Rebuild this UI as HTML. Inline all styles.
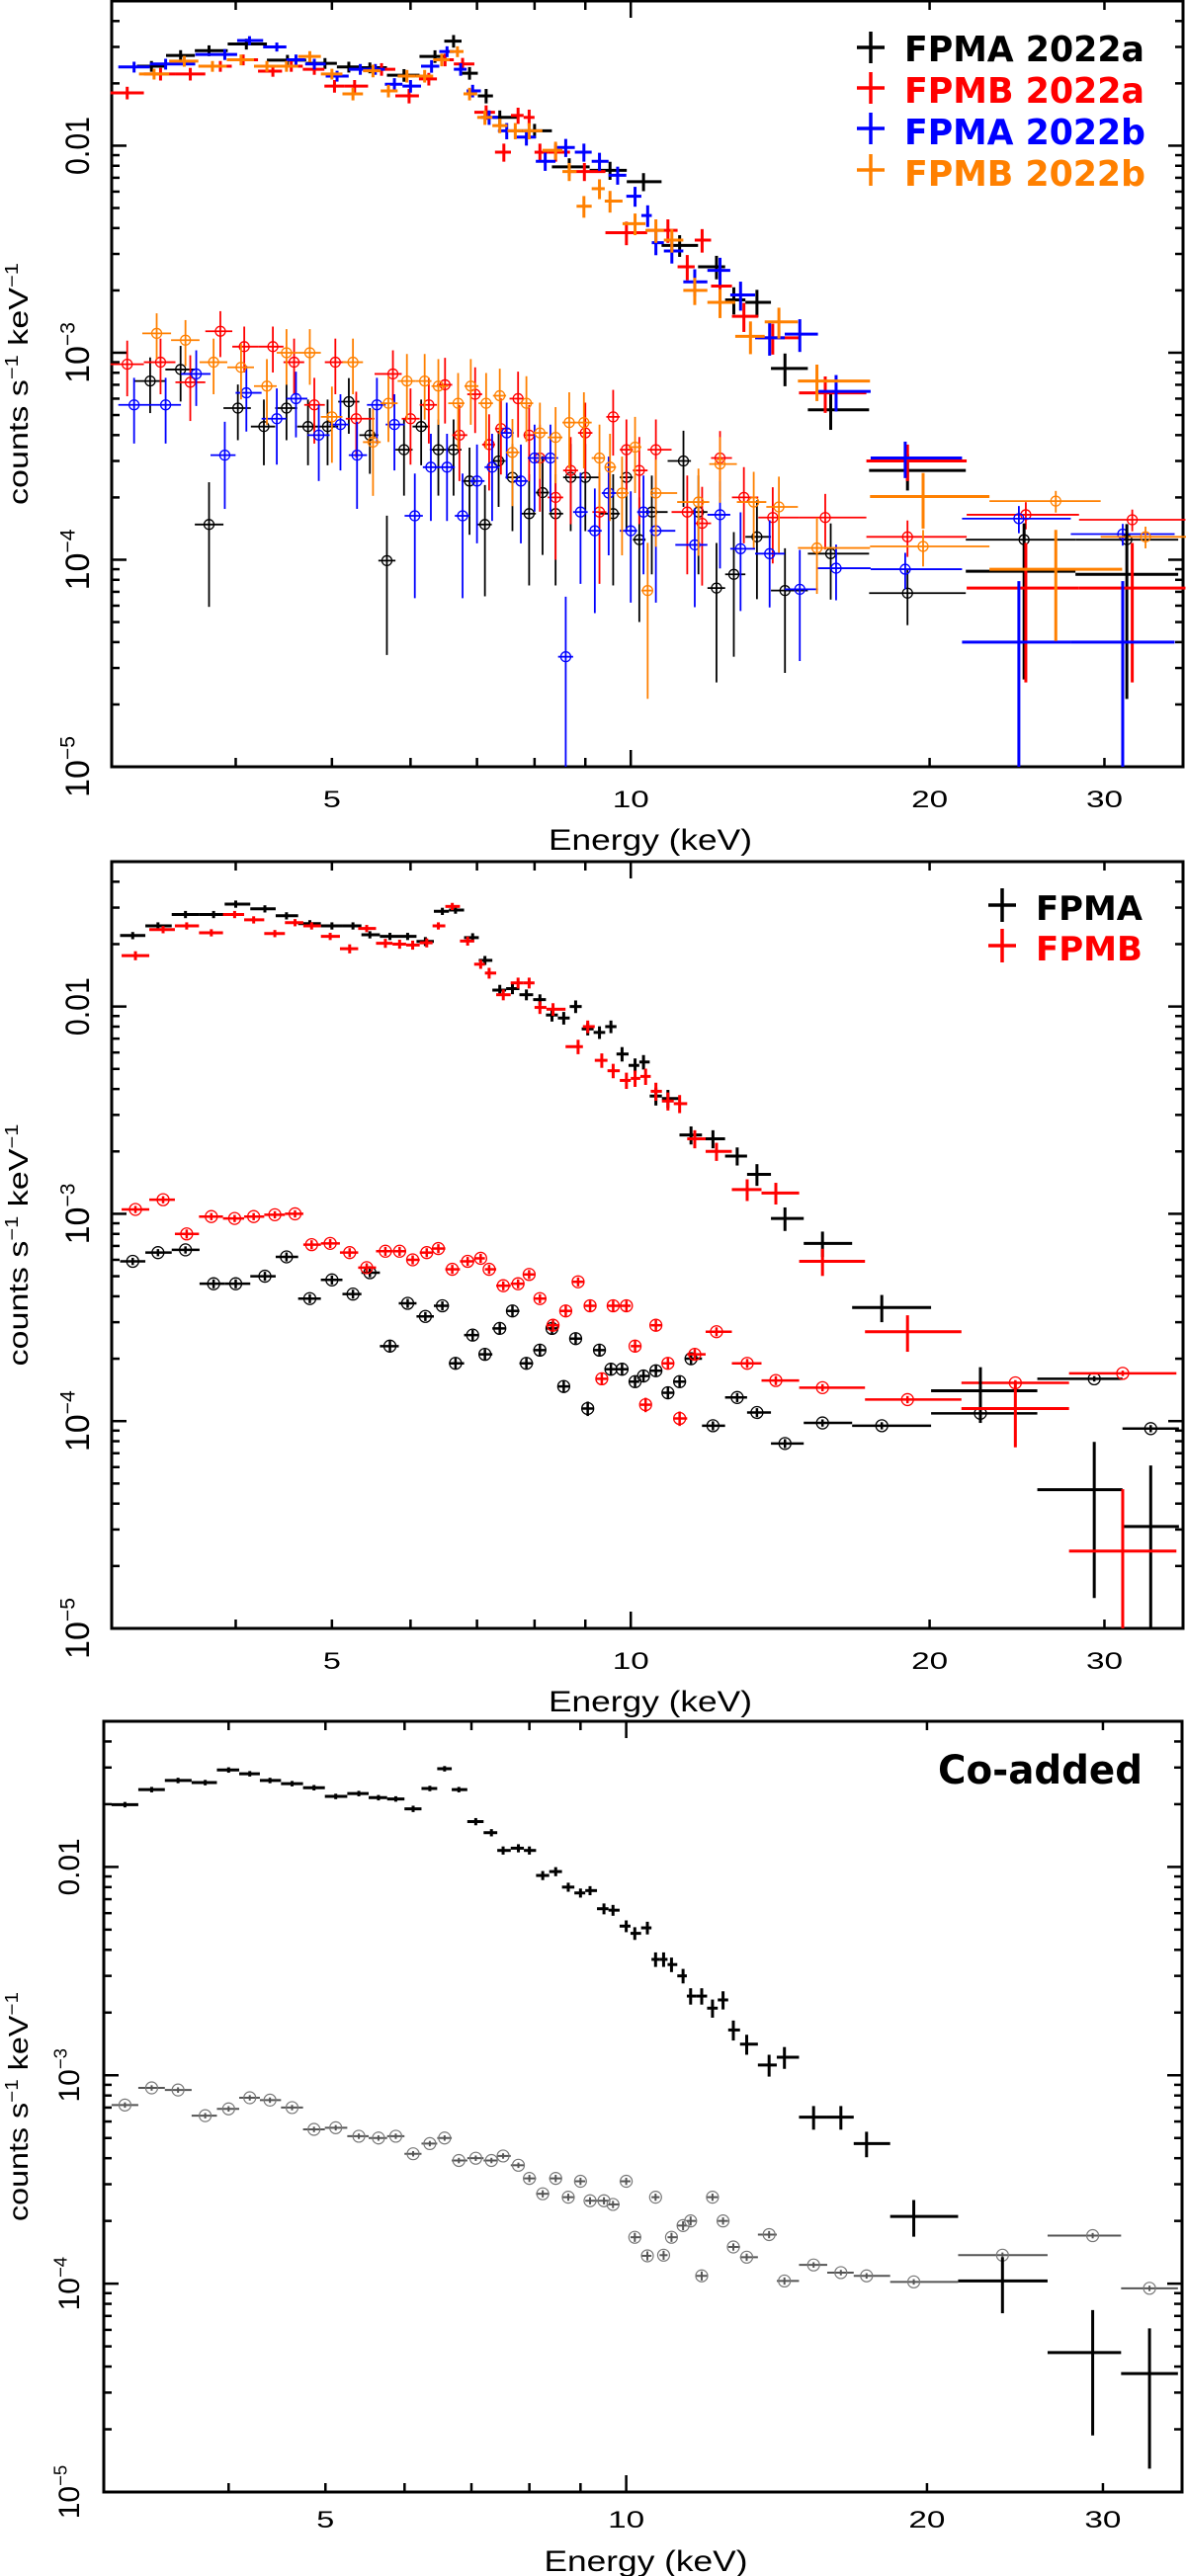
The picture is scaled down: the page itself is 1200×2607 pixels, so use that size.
<!DOCTYPE html>
<html><head><meta charset="utf-8"><title>NuSTAR spectra</title>
<style>html,body{margin:0;padding:0;background:#fff}svg{display:block}</style></head>
<body>
<svg id="chart" xmlns="http://www.w3.org/2000/svg" width="1200" height="2607" viewBox="0 0 1200 2607">
<rect x="0" y="0" width="1200" height="2607" fill="#fff"/>
</svg>
<script>
// ---------------- data: [energy keV, counts s^-1 keV^-1, fractional error] ----------------
const p1SrcFpmaA = [[3.29,0.0242,.06],[3.52,0.0273,.06],[3.76,0.0288,.06],[4.10,0.031,.06],[4.51,0.0259,.06],[4.92,0.025,.06],[5.2,0.024,.06],[5.46,0.0238,.06],[5.91,0.0219,.07],[6.35,0.027,.07],[6.63,0.032,.07],[6.88,0.0224,.07],[7.15,0.0174,.08],[7.38,0.0137,.08],[8.0,0.0118,.08],[8.67,0.0079,.1],[9.53,0.0076,.1],[10.3,0.0067,.1],[11.2,0.0033,.12],[12.2,0.0026,.13],[12.7,0.0018,.15],[13.4,0.00175,.15],[14.3,0.00084,.18],[15.9,0.00053,.2],[19.0,0.00027,.2],[24.9,0.000088,.7],[31.6,0.000085,.75]];
const p1SrcFpmbA = [[3.11,0.018,.07],[3.36,0.0222,.07],[3.6,0.0222,.07],[3.86,0.0242,.06],[4.07,0.026,.06],[4.36,0.0229,.06],[4.55,0.0242,.06],[4.8,0.0234,.06],[5.03,0.0194,.07],[5.27,0.0194,.07],[5.61,0.0234,.07],[5.98,0.0174,.08],[6.26,0.021,.07],[6.5,0.026,.07],[6.77,0.0248,.07],[7.15,0.0145,.08],[7.45,0.0093,.1],[7.7,0.014,.09],[7.9,0.0137,.09],[8.1,0.0093,.1],[8.4,0.0093,.1],[8.98,0.0075,.1],[9.9,0.0038,.13],[10.9,0.0039,.13],[11.4,0.0026,.14],[11.8,0.0035,.13],[12.3,0.0021,.15],[13.0,0.0015,.16],[13.9,0.00118,.17],[15.7,0.00064,.2],[19.0,0.0003,.2],[25,0.000073,.65],[32,0.000073,.65]];
const p1SrcFpmaB = [[3.16,0.024,.06],[3.40,0.0248,.06],[3.9,0.0276,.06],[4.13,0.0322,.05],[4.4,0.030,.05],[4.6,0.026,.06],[4.8,0.0248,.06],[5.06,0.0217,.06],[5.34,0.0234,.06],[5.53,0.0234,.06],[5.78,0.0198,.07],[6.0,0.0194,.07],[6.3,0.0242,.07],[6.53,0.0285,.06],[6.74,0.0234,.07],[6.93,0.0184,.07],[7.2,0.0137,.08],[7.5,0.0118,.09],[7.85,0.011,.09],[8.2,0.0084,.1],[8.6,0.0098,.1],[8.97,0.0093,.1],[9.3,0.0084,.1],[9.7,0.0072,.1],[10.1,0.0057,.11],[10.4,0.0046,.12],[10.6,0.0034,.13],[11.0,0.0031,.13],[11.6,0.0022,.15],[12.3,0.0025,.15],[12.9,0.0019,.16],[13.8,0.00118,.18],[14.8,0.00123,.18],[16.1,0.00065,.2],[18.9,0.00031,.2],[24.6,0.00004,.97],[31.3,0.00004,.97]];
const p1SrcFpmbB = [[3.31,0.0222,.06],[3.55,0.0256,.06],[3.79,0.0242,.06],[4.05,0.026,.06],[4.3,0.0242,.06],[4.5,0.0242,.06],[4.75,0.027,.06],[5.0,0.0222,.06],[5.25,0.0178,.07],[5.5,0.023,.07],[5.7,0.0184,.07],[5.95,0.0217,.07],[6.2,0.0217,.07],[6.45,0.026,.07],[6.69,0.0285,.06],[6.88,0.0178,.07],[7.13,0.0137,.08],[7.38,0.0125,.08],[7.65,0.0118,.09],[7.9,0.0118,.09],[8.4,0.0095,.1],[8.67,0.0075,.1],[8.97,0.0051,.12],[9.3,0.0062,.11],[9.53,0.0054,.12],[10.1,0.0042,.12],[10.6,0.0039,.13],[11.0,0.0035,.13],[11.6,0.002,.15],[12.3,0.00175,.16],[13.2,0.0012,.18],[14.1,0.00141,.17],[15.4,0.00073,.2],[19.7,0.000202,.3],[26.8,0.00009,.55]];
const p1BkgFpmaA = [[3.28,0.00073,.3],[3.52,0.00083,.3],[3.76,0.000148,.6],[4.02,0.00054,.3],[4.27,0.00044,.35],[4.5,0.00054,.3],[4.73,0.00044,.35],[4.95,0.00044,.35],[5.2,0.00058,.3],[5.46,0.0004,.35],[5.68,0.000099,.65],[5.91,0.00034,.4],[6.15,0.00044,.35],[6.4,0.00034,.4],[6.63,0.00034,.4],[6.88,0.00024,.45],[7.13,0.000148,.55],[7.36,0.0003,.4],[7.6,0.00025,.45],[7.9,0.000167,.55],[8.15,0.000211,.5],[8.4,0.000167,.55],[8.7,0.00025,.45],[9.0,0.00025,.45],[9.6,0.000167,.55],[9.9,0.00025,.45],[10.2,0.000125,.6],[10.5,0.00017,.5],[11.3,0.0003,.4],[11.7,0.00017,.5],[12.2,0.000073,.65],[12.7,0.000085,.6],[13.4,0.000129,.5],[14.3,0.000071,.6],[15.9,0.000107,.4],[19,0.000069,.3],[24.9,0.000125,.2],[31.6,0.000125,.15]];
const p1BkgFpmbA = [[3.11,0.00088,.3],[3.36,0.0009,.3],[3.6,0.00072,.35],[3.86,0.00127,.25],[4.08,0.00107,.25],[4.36,0.00107,.25],[4.58,0.0009,.3],[4.8,0.00056,.35],[5.04,0.0009,.3],[5.29,0.00048,.35],[5.76,0.00079,.3],[6.0,0.00048,.4],[6.26,0.00056,.35],[6.5,0.0007,.35],[6.72,0.0004,.4],[6.97,0.00063,.35],[7.2,0.00036,.4],[7.4,0.00043,.4],[7.7,0.0006,.35],[7.9,0.0004,.4],[8.1,0.00031,.45],[8.4,0.0002,.5],[8.7,0.00027,.45],[9.0,0.00041,.4],[9.3,0.00017,.55],[9.6,0.00049,.35],[9.9,0.00034,.4],[10.2,0.00027,.45],[10.6,0.00034,.4],[11.4,0.00017,.5],[11.8,0.00015,.5],[12.3,0.00031,.35],[13.0,0.0002,.4],[13.9,0.00016,.4],[15.7,0.00016,.3],[19,0.000129,.2],[25,0.000165,.15],[32,0.000156,.12]];
const p1BkgFpmaB = [[3.16,0.00056,.35],[3.4,0.00056,.35],[3.65,0.00079,.3],[3.9,0.00032,.45],[4.1,0.00064,.35],[4.4,0.00048,.4],[4.6,0.0006,.35],[4.85,0.0004,.4],[5.1,0.00045,.4],[5.3,0.00032,.45],[5.55,0.00056,.35],[5.78,0.00045,.4],[6.06,0.000163,.6],[6.29,0.00028,.45],[6.53,0.00028,.45],[6.77,0.000163,.6],[7.0,0.00024,.5],[7.25,0.00028,.45],[7.5,0.00041,.4],[7.75,0.00024,.5],[8.0,0.00031,.45],[8.3,0.00031,.45],[8.6,0.000034,.95],[8.9,0.00017,.55],[9.2,0.000138,.6],[9.5,0.00021,.5],[10.0,0.000138,.55],[10.3,0.00017,.5],[10.6,0.000138,.55],[11.6,0.000118,.5],[12.3,0.000165,.45],[12.9,0.000113,.5],[13.8,0.000107,.45],[14.8,0.000072,.55],[16.1,0.000091,.3],[18.9,0.00009,.2],[24.6,0.000158,.15],[31.3,0.000133,.12]];
const p1BkgFpmbB = [[3.33,0.00124,.25],[3.56,0.00115,.25],[3.8,0.0009,.3],[4.05,0.00085,.3],[4.3,0.00069,.35],[4.5,0.001,.3],[4.75,0.001,.3],[5.0,0.00049,.4],[5.25,0.0009,.3],[5.5,0.00037,.45],[5.7,0.00057,.35],[5.95,0.00073,.35],[6.2,0.00073,.35],[6.4,0.00069,.35],[6.7,0.00057,.4],[6.9,0.00069,.35],[7.15,0.00057,.4],[7.38,0.00062,.35],[7.6,0.00033,.45],[7.85,0.00057,.35],[8.1,0.00041,.4],[8.4,0.00039,.4],[8.67,0.00046,.4],[8.97,0.00046,.4],[9.3,0.00031,.45],[9.53,0.00028,.45],[9.8,0.00021,.5],[10.1,0.00035,.4],[10.4,0.000071,.7],[10.6,0.00021,.45],[11.7,0.00019,.45],[12.3,0.00029,.35],[13.3,0.00019,.4],[14.1,0.00018,.4],[15.4,0.000114,.4],[19.7,0.000116,.2],[26.8,0.000192,.12],[33,0.000129,.12]];

const p2SrcFpma = [[3.15,0.022,.04],[3.34,0.0245,.04],[3.56,0.0278,.04],[3.8,0.0278,.04],[4.0,0.0312,.04],[4.28,0.0296,.04],[4.5,0.0274,.04],[4.75,0.0251,.04],[5.0,0.0245,.04],[5.25,0.0245,.04],[5.46,0.0222,.04],[5.72,0.0218,.04],[5.96,0.0218,.04],[6.21,0.0206,.05],[6.46,0.0288,.04],[6.66,0.0292,.04],[6.93,0.0215,.05],[7.13,0.0167,.05],[7.38,0.012,.06],[7.6,0.0122,.06],[7.85,0.0114,.06],[8.1,0.0108,.06],[8.33,0.0091,.07],[8.56,0.0088,.07],[8.8,0.010,.07],[9.05,0.0078,.07],[9.3,0.0075,.07],[9.55,0.008,.07],[9.8,0.0059,.08],[10.1,0.0052,.08],[10.3,0.0054,.08],[10.6,0.0037,.1],[10.9,0.0036,.1],[11.5,0.0024,.1],[12.1,0.0023,.1],[12.8,0.0019,.1],[13.4,0.00155,.12],[14.3,0.00095,.13],[15.6,0.00072,.14],[17.9,0.000353,.15],[22.5,0.00014,.3],[29.3,0.0000467,.7],[33.4,0.000031,.97]];
const p2SrcFpmb = [[3.17,0.0176,.05],[3.38,0.0235,.04],[3.57,0.0245,.04],[3.78,0.0227,.04],[3.99,0.0278,.04],[4.17,0.0262,.04],[4.38,0.0225,.04],[4.59,0.0254,.04],[4.77,0.0245,.04],[4.98,0.0218,.04],[5.21,0.019,.05],[5.42,0.0238,.04],[5.66,0.0202,.05],[5.85,0.02,.05],[6.03,0.0198,.05],[6.23,0.0203,.05],[6.4,0.0245,.04],[6.61,0.0304,.04],[6.85,0.0207,.05],[7.06,0.016,.05],[7.2,0.0145,.06],[7.44,0.0114,.06],[7.7,0.013,.06],[7.9,0.013,.06],[8.1,0.0099,.07],[8.35,0.0097,.07],[8.85,0.0064,.08],[9.05,0.0080,.07],[9.35,0.0055,.08],[9.6,0.0049,.08],[9.9,0.0044,.09],[10.1,0.0045,.09],[10.35,0.0046,.09],[10.6,0.0039,.1],[10.9,0.0035,.1],[11.2,0.0034,.1],[11.6,0.0023,.1],[12.2,0.0020,.1],[13.1,0.00131,.12],[14.0,0.00126,.12],[15.6,0.00059,.15],[19.0,0.00027,.2],[24.4,0.000115,.35],[31.3,0.0000236,.99]];
const p2BkgFpma = [[3.15,0.00059,.04],[3.34,0.00065,.04],[3.56,0.00067,.04],[3.8,0.00046,.05],[4.0,0.00046,.05],[4.28,0.0005,.05],[4.5,0.00062,.05],[4.75,0.00039,.05],[5.0,0.00048,.05],[5.25,0.00041,.05],[5.46,0.00052,.05],[5.72,0.00023,.06],[5.96,0.00037,.05],[6.21,0.00032,.05],[6.46,0.00036,.05],[6.66,0.00019,.06],[6.93,0.00026,.06],[7.13,0.00021,.06],[7.38,0.00028,.06],[7.6,0.00034,.06],[7.85,0.00019,.06],[8.1,0.00022,.06],[8.33,0.00028,.06],[8.56,0.000147,.07],[8.8,0.00025,.06],[9.05,0.000115,.08],[9.3,0.00022,.06],[9.55,0.000178,.06],[9.8,0.000178,.06],[10.1,0.000155,.06],[10.3,0.000165,.06],[10.6,0.000175,.06],[10.9,0.000137,.07],[11.2,0.000155,.06],[11.5,0.0002,.06],[12.1,0.000095,.05],[12.8,0.00013,.05],[13.4,0.00011,.05],[14.3,0.000078,.05],[15.6,0.000098,.04],[17.9,0.000095,.04],[22.5,0.000109,.03],[29.3,0.00016,.03],[33.4,0.000092,.04]];
const p2BkgFpmb = [[3.17,0.00105,.04],[3.38,0.00117,.04],[3.57,0.0008,.05],[3.78,0.00097,.04],[3.99,0.00095,.04],[4.17,0.00097,.04],[4.38,0.00099,.04],[4.59,0.001,.04],[4.77,0.00071,.05],[4.98,0.00072,.05],[5.21,0.00065,.05],[5.42,0.00055,.05],[5.66,0.00066,.05],[5.85,0.00066,.05],[6.03,0.0006,.05],[6.23,0.00065,.05],[6.4,0.00068,.05],[6.61,0.00054,.05],[6.85,0.00059,.05],[7.06,0.00061,.05],[7.2,0.00054,.05],[7.44,0.00045,.05],[7.7,0.00046,.05],[7.9,0.00051,.05],[8.1,0.00039,.05],[8.35,0.00029,.06],[8.6,0.00034,.06],[8.85,0.00047,.05],[9.1,0.00036,.06],[9.35,0.00016,.07],[9.6,0.00036,.06],[9.9,0.00036,.06],[10.1,0.00023,.06],[10.35,0.00012,.08],[10.6,0.00029,.06],[10.9,0.00019,.06],[11.2,0.000103,.08],[11.6,0.00021,.06],[12.2,0.00027,.05],[13.1,0.00019,.05],[14.0,0.000157,.05],[15.6,0.000145,.04],[19.0,0.000127,.04],[24.4,0.000153,.03],[31.3,0.00017,.03]];

const p3SrcCoadded = [[3.15,0.0199,.03],[3.35,0.0235,.03],[3.56,0.026,.03],[3.79,0.0254,.03],[4.0,0.0292,.03],[4.2,0.028,.03],[4.4,0.026,.03],[4.63,0.0251,.03],[4.87,0.024,.03],[5.12,0.0218,.03],[5.4,0.0225,.03],[5.65,0.0215,.03],[5.88,0.0212,.03],[6.12,0.019,.035],[6.36,0.0238,.03],[6.58,0.0296,.03],[6.8,0.0235,.03],[7.07,0.0165,.04],[7.33,0.0146,.04],[7.53,0.012,.045],[7.8,0.0123,.045],[8.0,0.012,.045],[8.25,0.0091,.05],[8.5,0.0095,.05],[8.75,0.008,.05],[9.0,0.0075,.05],[9.2,0.0077,.05],[9.5,0.0063,.06],[9.7,0.0062,.06],[10.0,0.0052,.065],[10.2,0.0048,.07],[10.5,0.0051,.07],[10.7,0.0036,.08],[10.9,0.0036,.08],[11.1,0.0034,.08],[11.4,0.0030,.08],[11.6,0.0024,.09],[11.9,0.0024,.09],[12.2,0.0021,.1],[12.5,0.0023,.1],[12.8,0.00165,.11],[13.2,0.00141,.11],[13.9,0.00112,.12],[14.4,0.00122,.12],[15.4,0.00063,.13],[16.4,0.00063,.13],[17.4,0.00047,.14],[19.4,0.00021,.2],[23.8,0.000103,.3],[29.3,0.0000467,.6],[33.4,0.000037,.65]];
const p3BkgCoadded = [[3.15,0.00072,.03],[3.35,0.00087,.03],[3.56,0.00085,.03],[3.79,0.00064,.03],[4.0,0.00069,.03],[4.2,0.00078,.03],[4.4,0.00076,.03],[4.63,0.0007,.03],[4.87,0.00055,.03],[5.12,0.00056,.03],[5.4,0.00051,.03],[5.65,0.0005,.03],[5.88,0.00051,.03],[6.12,0.00042,.03],[6.36,0.00047,.03],[6.58,0.0005,.03],[6.8,0.00039,.03],[7.07,0.0004,.03],[7.33,0.00039,.03],[7.53,0.00041,.03],[7.8,0.00037,.03],[8.0,0.00032,.04],[8.25,0.00027,.04],[8.5,0.00032,.04],[8.75,0.00026,.04],[9.0,0.00031,.04],[9.2,0.00025,.04],[9.5,0.00025,.04],[9.7,0.00024,.04],[10.0,0.00031,.04],[10.2,0.000167,.05],[10.5,0.000136,.05],[10.7,0.00026,.04],[10.9,0.000137,.05],[11.1,0.000167,.05],[11.4,0.00019,.05],[11.6,0.0002,.05],[11.9,0.000109,.05],[12.2,0.00026,.04],[12.5,0.0002,.04],[12.8,0.00015,.04],[13.2,0.000134,.04],[13.9,0.000172,.04],[14.4,0.000103,.04],[15.4,0.000123,.03],[16.4,0.000113,.03],[17.4,0.000109,.03],[19.4,0.000102,.03],[23.8,0.000137,.03],[29.3,0.00017,.03],[33.4,0.000095,.03]];

const xTickValues = [4,5,6,7,8,9,10,20,30];
const xTickLabels = ["5","10","20","30"];
const xLabelValues = [5,10,20,30];
const yMajorValues = [1e-5,1e-4,1e-3,1e-2];

// ---------------- layout ----------------
const XMIN = 3, XMAX = 36, YMIN = 1e-5, YMAX = 0.05;
const NS = "http://www.w3.org/2000/svg";
const svg = document.getElementById("chart");
const panels = [
  {id:"top", l:113, r:1197, t:1, b:776, ylabX:90, yFont:34, titleLen:245, yLenDec:59, xLab:41, xTitle:74},
  {id:"middle", l:113, r:1197, t:872, b:1648, ylabX:90, yFont:34, titleLen:245, yLenDec:59, xLab:41, xTitle:74},
  {id:"bottom", l:105, r:1196, t:1742, b:2522, ylabX:80, yFont:30, titleLen:232, yLenDec:58, xLab:36, xTitle:70}
];
function xs(p,E){return p.l+(p.r-p.l)*Math.log(E/XMIN)/Math.log(XMAX/XMIN);}
function ys(p,v){return p.b-(p.b-p.t)*Math.log(v/YMIN)/Math.log(YMAX/YMIN);}
function mk(tag,attrs,parent){const e=document.createElementNS(NS,tag);for(const k in attrs)e.setAttribute(k,attrs[k]);(parent||svg).appendChild(e);return e;}

function drawAxes(p){
  const g=mk("g",{});
  
  
  for(let d=-5;d<=-2;d++){
    for(let m=1;m<=9;m++){
      const v=m*Math.pow(10,d); if(v>YMAX+1e-12) continue;
      const y=ys(p,v), L=(m===1)?15:8;
      const t1=mk("line",{x1:p.l,x2:p.l+L,y1:y,y2:y,stroke:"#000","stroke-width":2.5},g);
      
      
      const t2=mk("line",{x1:p.r,x2:p.r-L,y1:y,y2:y,stroke:"#000","stroke-width":2.5},g);
      
      
    }
  }
  xTickValues.forEach(v=>{
    const x=xs(p,v), L=(v===10)?17:9;
    const a=mk("line",{x1:x,x2:x,y1:p.b,y2:p.b-L,stroke:"#000","stroke-width":2.5},g);
    
    
    const b=mk("line",{x1:x,x2:x,y1:p.t,y2:p.t+L,stroke:"#000","stroke-width":2.5},g);
    
    
  });
  const fr=mk("rect",{x:p.l,y:p.t,width:p.r-p.l,height:p.b-p.t,fill:"none",stroke:"#000","stroke-width":3},g);
  
  
  xLabelValues.forEach((v,i)=>{
    const t=mk("text",{x:xs(p,v),y:p.b+p.xLab,"text-anchor":"middle","font-family":"Liberation Sans, sans-serif","font-size":24,textLength:xTickLabels[i].length===1?18:37,lengthAdjust:"spacingAndGlyphs"},g);
    t.textContent=xTickLabels[i];
    
    
  });
  const xt=mk("text",{x:(p.l+p.r)/2+3,y:p.b+p.xTitle+10,"text-anchor":"middle","font-family":"Liberation Sans, sans-serif","font-size":30,textLength:206,lengthAdjust:"spacingAndGlyphs"},g);
  xt.textContent="Energy (keV)";
  
  
  yMajorValues.forEach(v=>{
    const y=ys(p,v);
    const t=mk("text",{transform:`translate(${p.ylabX},${y}) rotate(-90)`,"text-anchor":"middle","font-family":"Liberation Sans, sans-serif","font-size":p.yFont},g);
    
    
    const ex=Math.round(Math.log10(v));
    if(ex===-2){t.textContent="0.01";t.setAttribute("textLength",p.yLenDec);t.setAttribute("lengthAdjust","spacingAndGlyphs");}
    else{
      const a=mk("tspan",{},t);a.textContent="10";
      const s=mk("tspan",{"font-size":p.yFont*0.62,dy:-p.yFont*0.42},t);s.textContent="\u2212"+(-ex);
    }
  });
  const cy=(p.t+p.b)/2;
  const yt=mk("text",{transform:`translate(28,${cy}) rotate(-90)`,"text-anchor":"middle","font-family":"Liberation Sans, sans-serif","font-size":28,textLength:p.titleLen,lengthAdjust:"spacingAndGlyphs"},g);
  
  
  const parts=[["counts s",0],["\u22121",1],[" keV",0],["\u22121",1]];
  parts.forEach(([s,sup])=>{const ts=mk("tspan",sup?{"font-size":18,"baseline-shift":"super"}:{},yt);ts.textContent=s;});
}

function drawSeries(p,data,color,opt,name){
  const g=mk("g",{});
  
  
  const lg=data.map(d=>Math.log(d[0]));
  data.forEach((d,i)=>{
    const left = i>0 ? (lg[i-1]+lg[i])/2 : lg[i]-(lg[i+1]-lg[i])/2;
    const right = i<data.length-1 ? (lg[i]+lg[i+1])/2 : lg[i]+(lg[i]-lg[i-1])/2;
    const x0=xs(p,Math.exp(left)), x1=xs(p,Math.exp(right)), xc=xs(p,d[0]);
    const yc=ys(p,d[1]);
    const lo=Math.max(d[1]*(1-d[2]),YMIN*0.5), hi=d[1]*(1+d[2]);
    const y0=Math.min(ys(p,lo),p.b), y1=ys(p,hi);
    const pt=mk("g",{},g);
    
    
    mk("line",{x1:x0,x2:x1,y1:yc,y2:yc,stroke:opt.hcolor||color,"stroke-width":opt.sw},pt);
    mk("line",{x1:xc,x2:xc,y1:y0,y2:y1,stroke:opt.hcolor||color,"stroke-width":opt.sw},pt);
    if(opt.r) mk("circle",{cx:xc,cy:yc,r:opt.r,fill:"none",stroke:color,"stroke-width":opt.cw||1.3},pt);
  });
}

function legendEntry(x,y,hw,hh,color,label,tx,ty,fs,len,name){
  const g=mk("g",{});
  
  
  mk("line",{x1:x-hw,x2:x+hw,y1:y,y2:y,stroke:color,"stroke-width":3.5},g);
  mk("line",{x1:x,x2:x,y1:y-hh,y2:y+hh,stroke:color,"stroke-width":3.5},g);
  const t=mk("text",{x:tx,y:ty,fill:color,"font-family":"DejaVu Sans, sans-serif","font-weight":"bold","font-size":fs,textLength:len,lengthAdjust:"spacingAndGlyphs"},g);
  t.textContent=label;
}

panels.forEach(drawAxes);
const [P1,P2,P3]=panels;
drawSeries(P1,p1BkgFpmaA,"#000",{sw:1.8,r:5},"bkg-fpma-2022a");
drawSeries(P1,p1BkgFpmbA,"#ff0000",{sw:1.8,r:5},"bkg-fpmb-2022a");
drawSeries(P1,p1BkgFpmaB,"#0000ff",{sw:1.8,r:5},"bkg-fpma-2022b");
drawSeries(P1,p1BkgFpmbB,"#ff8000",{sw:1.8,r:5},"bkg-fpmb-2022b");
drawSeries(P1,p1SrcFpmaA,"#000",{sw:3},"src-fpma-2022a");
drawSeries(P1,p1SrcFpmbA,"#ff0000",{sw:3},"src-fpmb-2022a");
drawSeries(P1,p1SrcFpmaB,"#0000ff",{sw:3},"src-fpma-2022b");
drawSeries(P1,p1SrcFpmbB,"#ff8000",{sw:3},"src-fpmb-2022b");
legendEntry(881,48,14,16,"#000","FPMA 2022a",915,62,36,243,"legend-fpma-2022a");
legendEntry(881,89,14,16,"#ff0000","FPMB 2022a",915,104,36,243,"legend-fpmb-2022a");
legendEntry(881,130,14,16,"#0000ff","FPMA 2022b",915,146,36,244,"legend-fpma-2022b");
legendEntry(881,172,14,16,"#ff8000","FPMB 2022b",915,188,36,244,"legend-fpmb-2022b");
drawSeries(P2,p2BkgFpma,"#000",{sw:2.5,r:6},"bkg-fpma");
drawSeries(P2,p2BkgFpmb,"#ff0000",{sw:2.5,r:6},"bkg-fpmb");
drawSeries(P2,p2SrcFpma,"#000",{sw:3},"src-fpma");
drawSeries(P2,p2SrcFpmb,"#ff0000",{sw:3},"src-fpmb");
legendEntry(1014,916,14,17,"#000","FPMA",1048,931,34,108,"legend-fpma");
legendEntry(1014,957,14,17,"#ff0000","FPMB",1048,972,34,108,"legend-fpmb");
drawSeries(P3,p3BkgCoadded,"#777",{sw:2,r:6,hcolor:"#555",cw:1.2},"bkg-coadded");
drawSeries(P3,p3SrcCoadded,"#000",{sw:3},"src-coadded");
const co=mk("text",{x:949,y:1805,"font-family":"DejaVu Sans, sans-serif","font-weight":"bold","font-size":40,textLength:207,lengthAdjust:"spacingAndGlyphs"});
co.textContent="Co-added";


</script>
</body></html>
